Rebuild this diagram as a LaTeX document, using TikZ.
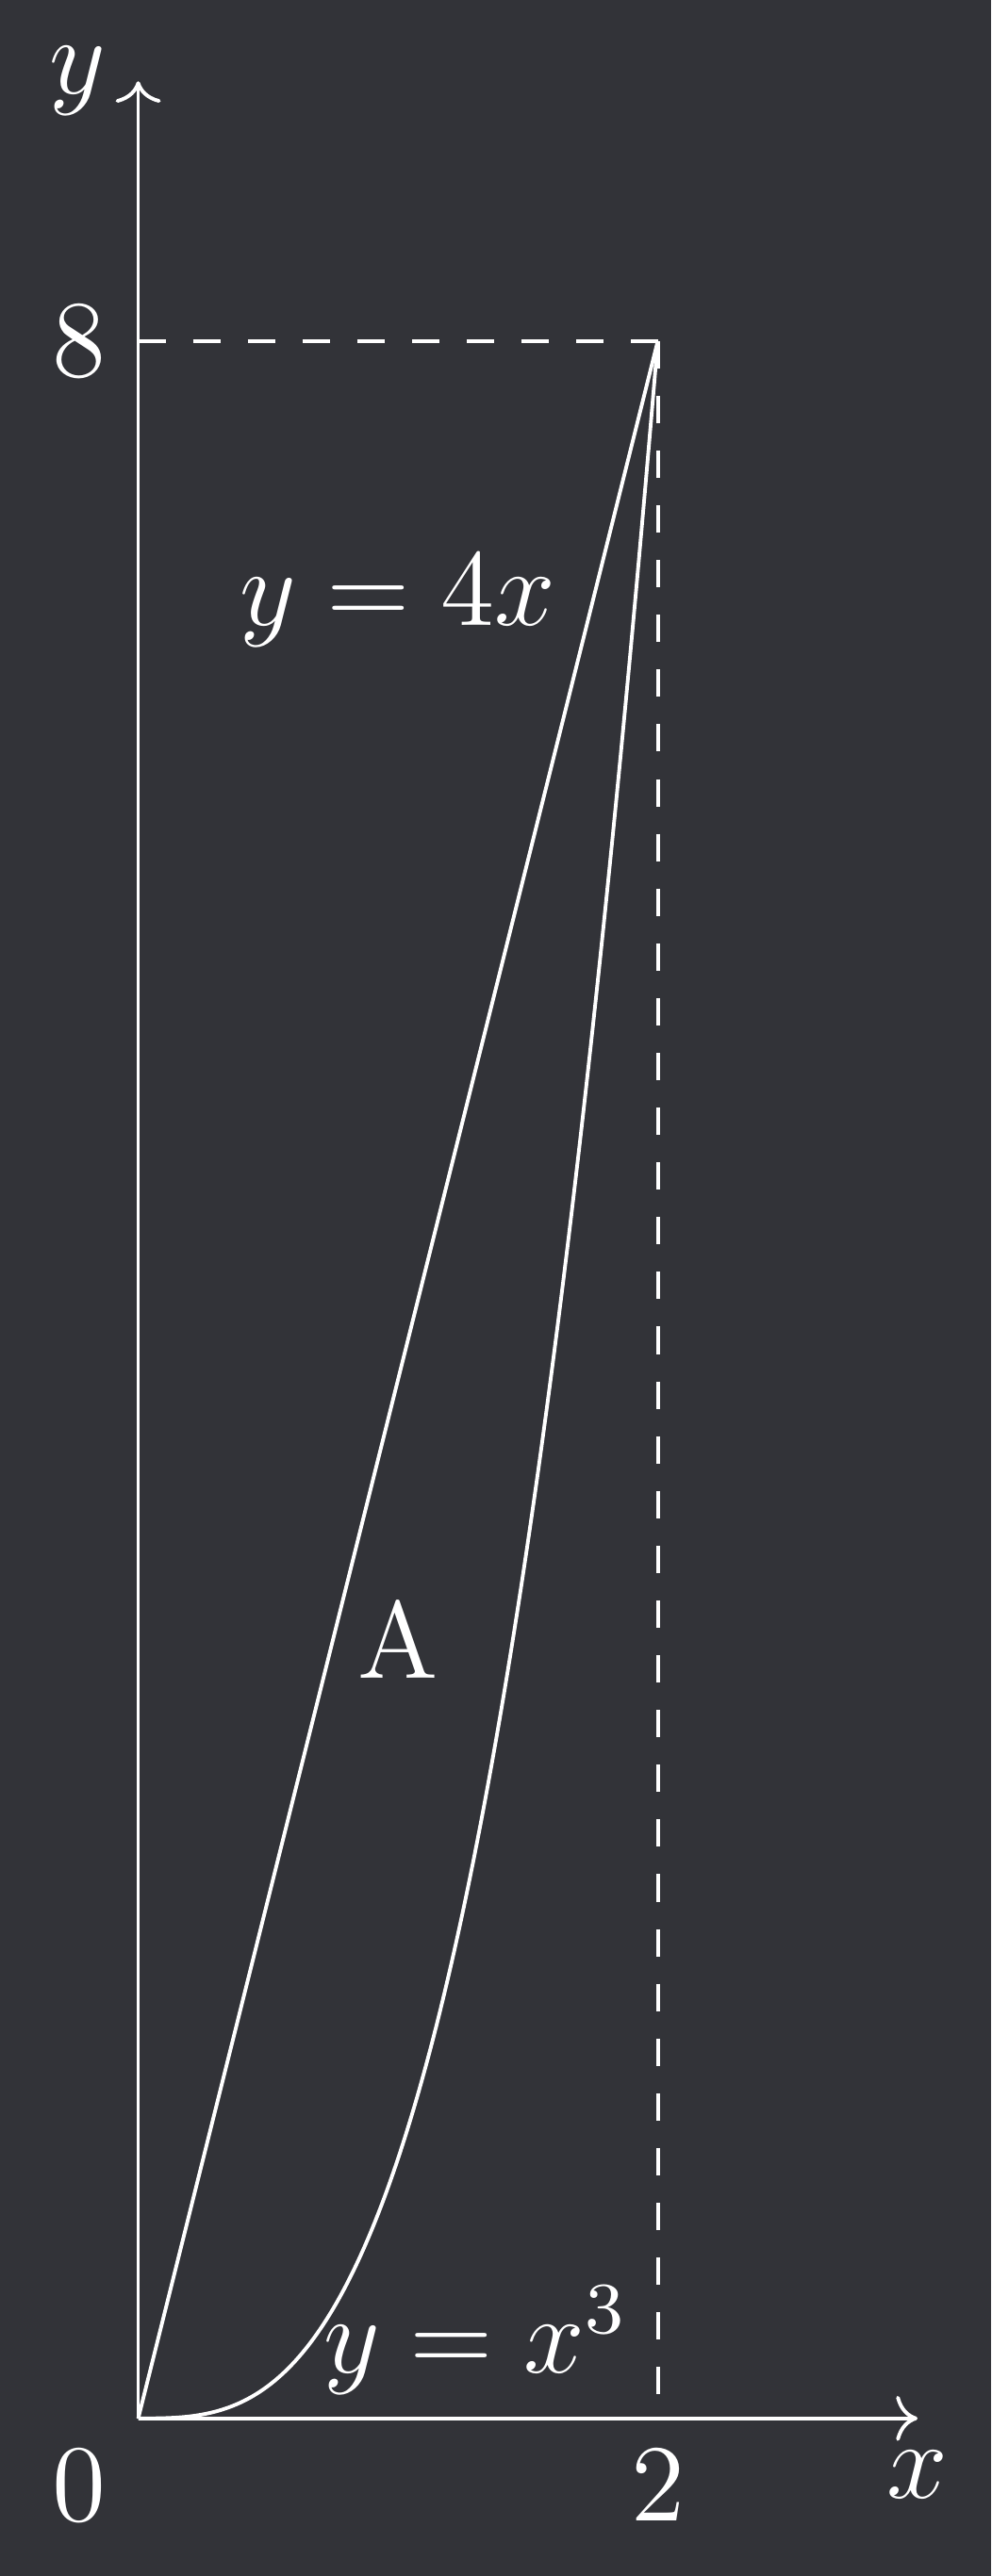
\documentclass[tikz,border=0pt]{standalone}
\usetikzlibrary{arrows.meta}
\definecolor{bgdark}{RGB}{50,51,56}
\begin{document}
\begin{tikzpicture}[
  every node/.style={text=white,font=\large},
  axisline/.style={draw=white,line width=0.4pt,-{To[scale=0.95]}},
  curveline/.style={draw=white,line width=0.4pt},
  guideline/.style={draw=white,line width=0.4pt,dashed}]
\fill[bgdark] (-0.532,-0.607) rectangle (3.283,9.313);
\useasboundingbox (-0.532,-0.607) rectangle (3.283,9.313);
\coordinate (O) at (0,0);
\coordinate (X) at (3,0);
\coordinate (Y) at (0,9);
\coordinate (Y8) at (0,8);
\coordinate (P) at (2,8);
\coordinate (X2) at (2,0);
\draw[axisline] (O) -- (X);
\draw[axisline] (O) -- (Y);
\draw[guideline] (Y8) -- (P);
\draw[guideline] (P) -- (X2);
\draw[curveline] (O) -- (P);
\draw[curveline] plot[domain=0:2,samples=100,smooth] (\x,{\x*\x*\x});
\node[below left] (l0) at (O) {$0$};
\node[below] (l2) at (X2) {$2$};
\node[below] (lx) at (X) {$x$};
\node[left] (ly) at (Y) {$y$};
\node[left] (l8) at (Y8) {$8$};
\node (lline) at (1,7) {$y=4x$};
\node (lA) at (1,3) {A};
\node (lcubic) at (1.3,0.3) {$y=x^3$};
\end{tikzpicture}
\end{document}
